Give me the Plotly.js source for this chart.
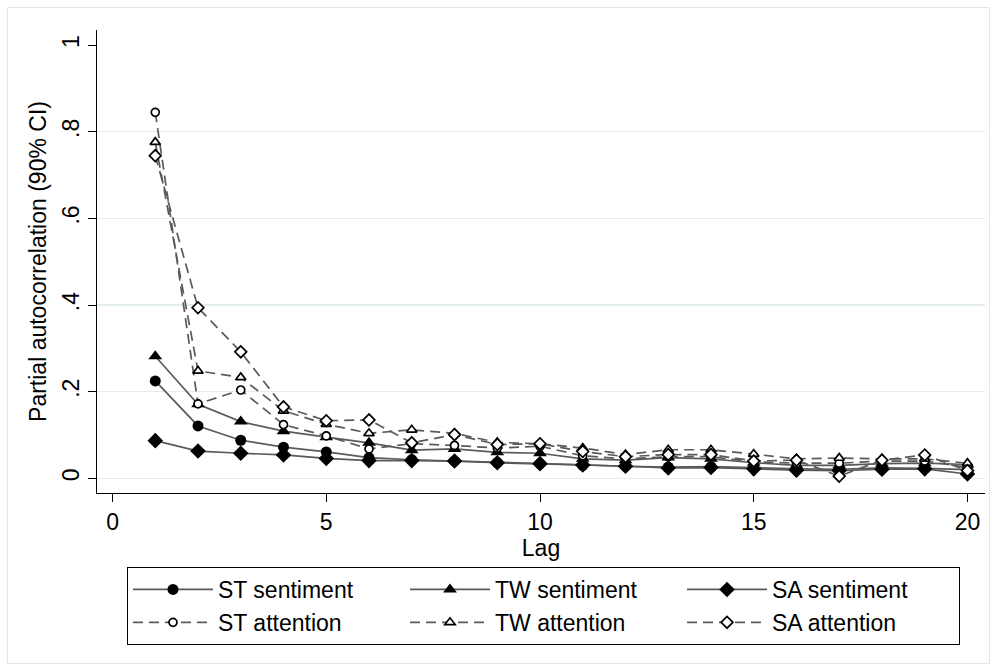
<!DOCTYPE html>
<html>
<head>
<meta charset="utf-8">
<script src="https://cdn.plot.ly/plotly-3.0.1.min.js"></script>
<style>
  html, body { margin: 0; padding: 0; background: #ffffff; }
  #chart { width: 997px; height: 671px; }
</style>
</head>
<body>
<div id="chart"></div>
<script>
// ---- Data ----
const lags = [1,2,3,4,5,6,7,8,9,10,11,12,13,14,15,16,17,18,19,20];

const stSentiment = [0.225, 0.121, 0.088, 0.072, 0.061, 0.048, 0.043, 0.040, 0.036, 0.034,
                     0.030, 0.028, 0.026, 0.027, 0.025, 0.022, 0.021, 0.024, 0.023, 0.020];
const twSentiment = [0.282, 0.171, 0.131, 0.109, 0.095, 0.082, 0.065, 0.068, 0.060, 0.058,
                     0.045, 0.042, 0.048, 0.045, 0.036, 0.030, 0.030, 0.034, 0.035, 0.032];
const saSentiment = [0.087, 0.063, 0.058, 0.054, 0.046, 0.041, 0.041, 0.040, 0.036, 0.034,
                     0.031, 0.028, 0.024, 0.025, 0.022, 0.019, 0.018, 0.021, 0.022, 0.010];
const stAttention = [0.845, 0.172, 0.204, 0.124, 0.098, 0.068, 0.080, 0.076, 0.070, 0.074,
                     0.052, 0.045, 0.050, 0.050, 0.038, 0.035, 0.035, 0.040, 0.040, 0.025];
const twAttention = [0.776, 0.248, 0.233, 0.156, 0.125, 0.104, 0.112, 0.104, 0.083, 0.080,
                     0.070, 0.055, 0.066, 0.066, 0.056, 0.045, 0.047, 0.045, 0.045, 0.035];
const saAttention = [0.745, 0.394, 0.292, 0.165, 0.133, 0.135, 0.082, 0.101, 0.078, 0.080,
                     0.062, 0.050, 0.055, 0.055, 0.040, 0.042, 0.005, 0.042, 0.054, 0.018];

const seriesNames = ["ST sentiment", "TW sentiment", "SA sentiment",
                     "ST attention", "TW attention", "SA attention"];
const xTickVals = [0, 5, 10, 15, 20];
const xTickText = ["0", "5", "10", "15", "20"];
const yTickVals = [0, 0.2, 0.4, 0.6, 0.8, 1];
const yTickText = ["0", ".2", ".4", ".6", ".8", "1"];
const yGridVals = [0, 0.2, 0.4, 0.6, 0.8];
const xTitle = "Lag";
const yTitle = "Partial autocorrelation (90% CI)";

// ---- Styling ----
const FONT = "Liberation Sans, Arial, Helvetica, sans-serif";
const FS = 23;
const LINE = "#5a5a5a";
const DASH = "10px,6px";

function solid(name, y, symbol, size) {
  return {
    type: "scatter", mode: "lines+markers", name: name, x: lags, y: y,
    line: { color: LINE, width: 1.7 },
    marker: { symbol: symbol, size: size, color: "#000000", line: { width: 0 } }
  };
}
function dashed(name, y, symbol, size) {
  return {
    type: "scatter", mode: "lines+markers", name: name, x: lags, y: y,
    line: { color: LINE, width: 1.7, dash: DASH },
    marker: { symbol: symbol, size: size, color: "#ffffff", line: { width: 1.7, color: "#000000" } }
  };
}

const traces = [
  solid(seriesNames[0], stSentiment, "circle", 11),
  solid(seriesNames[1], twSentiment, "triangle-up", 12),
  solid(seriesNames[2], saSentiment, "diamond", 12),
  dashed(seriesNames[3], stAttention, "circle", 8),
  dashed(seriesNames[4], twAttention, "triangle-up", 9),
  dashed(seriesNames[5], saAttention, "diamond", 9),
  // invisible helper so the grid axis (without a line at 1) exists
  { type: "scatter", x: [lags[0]], y: [stSentiment[0]], yaxis: "y2", mode: "none",
    showlegend: false, hoverinfo: "skip" }
];

// plot area: left 97, right 985, top 30, bottom 493
const L = 97, R = 12, T = 30, B = 178, W = 997, H = 671;
const pw = W - L - R, ph = H - T - B;
const px = v => (v - L) / pw;
const py = v => (H - B - v) / ph;

const layout = {
  width: W, height: H,
  margin: { l: L, r: R, t: T, b: B, pad: 0 },
  paper_bgcolor: "#ffffff",
  plot_bgcolor: "rgba(0,0,0,0)",
  font: { family: FONT, size: FS, color: "#000000" },
  showlegend: true,
  xaxis: {
    range: [-0.363, 20.41],
    tickvals: xTickVals, ticktext: xTickText,
    ticks: "outside", ticklen: 8, tickwidth: 1, tickcolor: "#000000",
    showline: true, linecolor: "#000000", linewidth: 1,
    showgrid: false, zeroline: false,
    tickfont: { family: FONT, size: FS },
    title: { text: xTitle, font: { family: FONT, size: FS }, standoff: 0 },
    automargin: false
  },
  yaxis: {
    range: [-0.0338, 1.035],
    tickvals: yTickVals, ticktext: yTickText,
    tickangle: -90,
    ticks: "outside", ticklen: 8, tickwidth: 1, tickcolor: "#000000",
    showline: true, linecolor: "#000000", linewidth: 1,
    showgrid: false, zeroline: false,
    tickfont: { family: FONT, size: FS },
    title: { text: yTitle, font: { family: FONT, size: FS }, standoff: 4 },
    automargin: false
  },
  yaxis2: {
    overlaying: "y", matches: "y", side: "left",
    tickvals: yGridVals, showticklabels: false, ticks: "",
    showgrid: true, gridcolor: "#e3edef", gridwidth: 1.3,
    showline: false, zeroline: false, layer: "below traces"
  },
  legend: {
    orientation: "h",
    x: px(127), xanchor: "left",
    y: py(567), yanchor: "top",
    bordercolor: "#000000", borderwidth: 1,
    bgcolor: "#ffffff",
    font: { family: FONT, size: FS },
    entrywidth: 182, entrywidthmode: "pixels",
    traceorder: "normal",
    itemwidth: 80
  },
  shapes: [
    { type: "rect", xref: "paper", yref: "paper",
      x0: px(7.5), x1: px(989.5), y0: py(663.5), y1: py(7.5),
      line: { color: "#e6e6e6", width: 1 }, fillcolor: "rgba(0,0,0,0)", layer: "below" }
  ]
};

Plotly.newPlot("chart", traces, layout, { displayModeBar: false, staticPlot: true });
</script>
</body>
</html>
